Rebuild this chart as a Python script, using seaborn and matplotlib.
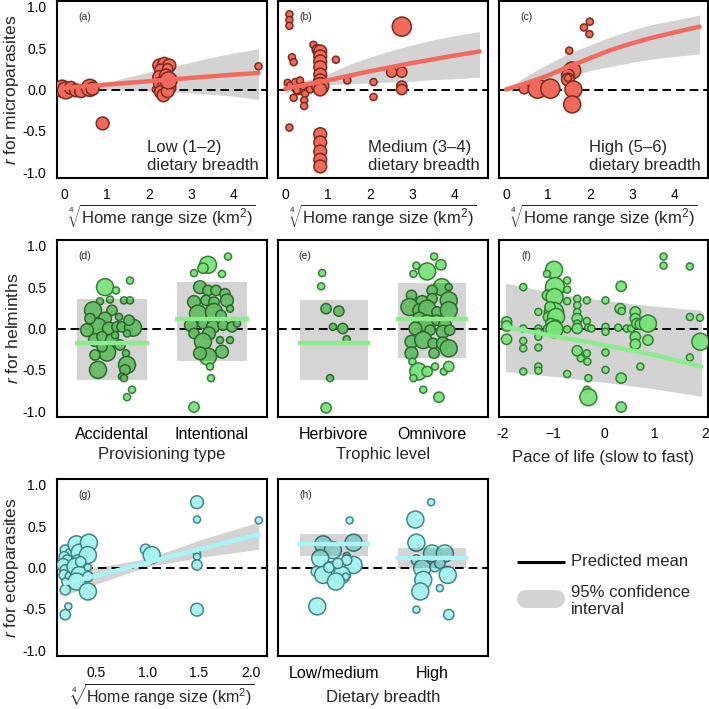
import matplotlib
matplotlib.use("Agg")
import matplotlib.pyplot as plt
import numpy as np
import pandas as pd
import seaborn as sns

# ------------------------------------------------------------------ data
y_ticks = [-1.0, -0.5, 0.0, 0.5, 1.0]
y_tick_labels = ["-1.0", "-0.5", "0.0", "0.5", "1.0"]
hr_ticks = [0, 1, 2, 3, 4]
g_ticks = [0.5, 1.0, 1.5, 2.0]
f_ticks = [-2, -1, 0, 1, 2]
f_tick_labels = ["-2", "\u22121", "0", "1", "2"]

# (a) low dietary breadth - microparasites
a_x = [-0.05, 0.04, 0.16, 0.28, 0.40, 0.61, 0.67, 0.91, 2.17, 2.25, 2.37, 2.49, 2.29,
       2.45, 2.25, 2.41, 2.49, 2.27, 2.37, 2.49, 2.29, 2.35, 2.45, 2.47, 4.60]
a_r = [0.01, -0.01, 0.02, -0.01, -0.02, 0.02, 0.01, -0.41, 0.00, 0.29, 0.31, 0.29, 0.23,
       0.25, 0.15, 0.17, 0.11, 0.07, 0.05, 0.02, -0.03, -0.07, -0.02, 0.11, 0.28]
a_w = [4, 4, 3, 3, 3, 4, 3, 3, 1, 3, 3, 3, 3, 2, 3, 3, 3, 3, 3, 3, 3, 3, 3, 4, 1]
a_fit_x = [0, 1, 2, 3, 4, 4.6]
a_fit = [0.02, 0.06, 0.10, 0.14, 0.18, 0.20]
a_ci_x = [0, 0.75, 1.5, 2, 2.5, 3, 3.5, 4, 4.6]
a_ci_lo = [0.00, 0.00, -0.01, -0.02, -0.03, -0.04, -0.06, -0.08, -0.12]
a_ci_hi = [0.04, 0.05, 0.15, 0.21, 0.27, 0.33, 0.39, 0.44, 0.49]

# (b) medium dietary breadth - microparasites
b_x = [0.10, 0.10, 0.10, 0.10, 0.16, 0.20, 0.06, 0.12, 0.24, 0.35, 0.20, 0.31, 0.42, 0.47,
       0.45, 0.45, 0.28, 0.59, 0.67, 0.76, 0.83, 0.83, 0.83, 0.83, 0.83, 0.83, 0.83, 0.83,
       0.83, 0.83, 0.83, 0.83, 0.83, 1.20, 1.47, 2.09, 2.09, 2.52, 2.76, 2.76, 2.76, 2.76]
b_r = [0.91, 0.84, 0.77, -0.46, 0.39, 0.33, 0.08, 0.05, 0.09, 0.11, -0.10, 0.00, 0.04, -0.05,
       -0.13, -0.20, -0.01, 0.00, 0.54, 0.48, 0.46, 0.40, 0.34, 0.27, 0.18, 0.11, 0.04, 0.00,
       -0.54, -0.64, -0.75, -0.85, -0.93, 0.36, 0.11, 0.09, -0.09, 0.21, 0.21, 0.04, 0.00, 0.76]
b_w = [1, 1, 1, 1, 1, 1, 1, 1, 1, 1, 1, 2, 1, 1,
       1, 1, 1, 1, 1, 2, 3, 3, 3, 3, 3, 3, 4, 3,
       3, 3, 3, 3, 3, 1, 1, 1, 1, 2, 2, 2, 2, 5]
b_fit_x = [0, 1, 2, 3, 4, 4.6]
b_fit = [0.01, 0.11, 0.22, 0.32, 0.41, 0.46]
b_ci_x = [0, 0.85, 1.5, 2, 2.5, 3, 3.5, 4, 4.6]
b_ci_lo = [-0.04, 0.05, 0.07, 0.08, 0.09, 0.10, 0.12, 0.13, 0.15]
b_ci_hi = [0.06, 0.15, 0.30, 0.39, 0.47, 0.54, 0.60, 0.65, 0.70]

# (c) high dietary breadth - microparasites
c_x = [0.43, 0.75, 1.05, 1.57, 1.47, 1.47, 1.47, 1.60, 1.57, 1.50, 1.85, 1.99, 1.98]
c_r = [0.01, 0.01, 0.01, 0.23, 0.17, 0.12, 0.14, 0.00, -0.18, 0.47, 0.75, 0.82, 0.67]
c_w = [2, 5, 5, 4, 3, 3, 1, 4, 4, 1, 1, 1, 1]
c_fit_x = [0, 0.5, 1, 1.5, 2, 2.5, 3, 3.5, 4, 4.6]
c_fit = [0.00, 0.08, 0.17, 0.28, 0.38, 0.48, 0.56, 0.63, 0.69, 0.76]
c_ci_lo = [0.00, 0.03, 0.07, 0.15, 0.23, 0.28, 0.33, 0.37, 0.40, 0.43]
c_ci_hi = [0.00, 0.17, 0.31, 0.44, 0.54, 0.64, 0.72, 0.79, 0.84, 0.90]

# (d) provisioning type - helminths
d_cats = ["Accidental", "Intentional"]
d_mean = [-0.18, 0.11]
d_lo = [-0.625, -0.39]
d_hi = [0.355, 0.565]
d_group = ([0] * 36) + ([1] * 34)
d_jit = [-0.07, 0.04, 0.18, -0.12, -0.19, 0.00, 0.12, 0.18, -0.07, -0.14, -0.03, 0.05,
         0.10, 0.21, 0.15, -0.17, -0.10, 0.00, -0.05, -0.17, 0.14, -0.14, 0.15, 0.13,
         0.10, 0.12, 0.20, 0.15, -0.25, -0.22, 0.07, 0.03, 0.08, -0.02, 0.17, -0.10,
         0.16, -0.04, -0.09, -0.18, 0.10, -0.12, -0.04, 0.04, 0.13, -0.18, -0.06, 0.02,
         0.15, 0.18, -0.14, 0.02, 0.09, -0.21, -0.09, 0.01, 0.11, 0.20, -0.18, -0.03,
         -0.09, 0.08, 0.18, 0.10, -0.04, -0.02, -0.01, -0.18, -0.12, 0.25]
d_r = [0.50, 0.46, 0.58, 0.33, 0.22, 0.22, 0.34, 0.34, 0.12, 0.02, 0.00, 0.02,
       0.02, 0.01, -0.06, -0.14, -0.10, -0.14, -0.29, -0.32, -0.30, -0.50, -0.44, -0.50,
       -0.58, -0.60, -0.74, -0.83, -0.02, 0.12, 0.14, -0.08, -0.20, 0.35, 0.10, -0.22,
       0.87, 0.77, 0.73, 0.67, 0.66, 0.50, 0.46, 0.46, 0.42, 0.32, 0.34, 0.32,
       0.34, 0.24, 0.18, 0.20, 0.16, 0.04, 0.06, 0.02, 0.04, 0.02, -0.06, -0.06,
       -0.16, -0.14, -0.14, -0.28, -0.34, -0.46, -0.60, -0.95, -0.30, 0.06]
d_w = [4, 1, 1, 1, 4, 2, 1, 1, 3, 4, 3, 2,
       2, 4, 1, 3, 2, 3, 4, 2, 1, 4, 4, 2,
       1, 1, 1, 1, 3, 2, 1, 1, 2, 1, 2, 2,
       1, 4, 2, 1, 1, 3, 2, 2, 2, 3, 2, 2,
       3, 1, 4, 4, 2, 3, 2, 3, 2, 2, 2, 3,
       4, 1, 1, 3, 4, 1, 1, 2, 3, 1]

# (e) trophic level - helminths
e_cats = ["Herbivore", "Omnivore"]
e_mean = [-0.18, 0.12]
e_lo = [-0.625, -0.36]
e_hi = [0.35, 0.55]
e_group = ([0] * 9) + ([1] * 42)
e_jit = [-0.12, -0.13, -0.08, 0.05, -0.01, 0.09, 0.13, -0.04, -0.08,
         0.02, -0.16, 0.09, -0.05, -0.19, 0.10, 0.00, 0.17, -0.21, -0.10, 0.00, 0.17,
         -0.23, -0.13, -0.05, 0.05, 0.17, -0.13, -0.05, 0.05, 0.13, -0.17, -0.02, 0.11,
         0.18, -0.21, -0.09, 0.01, 0.11, 0.17, -0.21, 0.02, -0.20, -0.17, -0.14, -0.05,
         0.03, 0.12, 0.17, -0.19, -0.09, 0.07]
e_r = [0.67, 0.51, 0.24, 0.21, 0.02, 0.00, -0.13, -0.60, -0.96,
       0.87, 0.76, 0.77, 0.69, 0.66, 0.50, 0.46, 0.50, 0.40, 0.32, 0.36, 0.34,
       0.26, 0.22, 0.24, 0.20, 0.22, 0.12, 0.06, 0.10, 0.04, 0.00, -0.02, -0.04,
       -0.02, -0.16, -0.14, -0.18, -0.18, -0.24, -0.30, -0.30, -0.40, -0.50, -0.52, -0.52,
       -0.46, -0.52, -0.46, -0.60, -0.74, -0.83]
e_w = [1, 1, 2, 2, 1, 2, 1, 1, 2,
       1, 1, 2, 4, 1, 4, 2, 1, 2, 3, 2, 4,
       4, 3, 4, 2, 4, 3, 4, 2, 3, 3, 2, 3,
       2, 3, 4, 2, 3, 4, 3, 2, 1, 1, 4, 2,
       1, 1, 2, 1, 1, 2]

# (f) pace of life - helminths
f_x = [-1.93, -1.93, -1.93, -1.60, -1.60, -1.60, -1.60, -1.60, -1.30, -1.30, -1.30, -1.30,
       -1.30, -1.30, -1.30, -0.99, -1.13, -0.97, -1.12, -0.98, -0.99, -1.07, -1.10, -0.95,
       -1.05, -0.95, -1.10, -0.98, -0.73, -0.73, -0.73, -0.73, -0.73, -0.53, -0.53, -0.53,
       -0.53, -0.53, -0.53, -0.53, -0.46, -0.34, -0.34, -0.31, -0.25, -0.34, -0.33, -0.31,
       -0.34, -0.31, 0.03, 0.03, 0.03, 0.03, 0.03, 0.28, 0.34, 0.32, 0.35, 0.34, 0.34,
       0.45, 0.54, 0.62, 0.62, 0.65, 0.62, 0.62, 0.72, 0.72, 0.87, 0.87, 1.18, 1.18, 1.70,
       1.70, 1.90, 1.70, 1.91]
f_r = [0.08, 0.03, -0.13, 0.50, 0.00, -0.15, -0.24, -0.52, 0.20, 0.00, -0.04, -0.10,
       -0.23, -0.46, -0.51, 0.71, 0.66, 0.50, 0.40, 0.38, 0.20, 0.26, 0.14, 0.14,
       0.06, 0.04, -0.01, -0.01, 0.58, 0.47, 0.33, -0.01, -0.55, 0.36, 0.28, 0.20,
       0.12, 0.06, 0.00, -0.27, -0.36, 0.34, 0.09, 0.01, 0.00, -0.30, -0.40, -0.60,
       -0.74, -0.83, 0.34, 0.02, -0.04, -0.29, -0.50, 0.01, 0.51, 0.24, 0.21, -0.60, -0.95,
       0.00, 0.00, 0.20, 0.12, 0.06, -0.10, -0.19, 0.05, -0.46, 0.06, -0.14, 0.87, 0.76, 0.75,
       0.14, 0.13, -0.35, -0.16]
f_w = [2, 2, 2, 1, 1, 1, 1, 1, 1, 1, 1, 1,
       1, 1, 1, 4, 1, 5, 2, 4, 5, 2, 2, 4,
       2, 2, 2, 4, 1, 1, 1, 1, 1, 1, 1, 1,
       2, 1, 2, 2, 1, 1, 1, 1, 1, 1, 1, 1,
       1, 4, 1, 1, 1, 1, 1, 1, 2, 2, 1, 2, 2,
       1, 1, 2, 2, 2, 2, 2, 2, 1, 4, 2, 1, 1, 1,
       1, 1, 1, 4]
f_fit_x = [-1.95, -1, 0, 1, 1.93]
f_fit = [0.02, -0.09, -0.20, -0.32, -0.46]
f_ci_lo = [-0.52, -0.58, -0.65, -0.73, -0.82]
f_ci_hi = [0.55, 0.43, 0.34, 0.27, 0.22]

# (g) home range - ectoparasites
g_x = [0.20, 0.25, 0.19, 0.22, 0.18, 0.20, 0.19, 0.25, 0.20, 0.20, 0.23, 0.20, 0.31,
       0.34, 0.32, 0.30, 0.37, 0.34, 0.31, 0.43, 0.42, 0.42, 0.42, 0.42, 0.35, 0.98,
       1.04, 1.48, 1.48, 1.48, 1.48, 1.48, 1.48, 2.08]
g_r = [0.21, 0.17, 0.13, 0.09, 0.03, -0.03, -0.09, -0.11, -0.17, -0.27, -0.47, -0.57, 0.28,
       0.18, 0.09, 0.01, -0.01, -0.09, -0.17, 0.30, 0.15, 0.00, -0.11, -0.29, 0.07, 0.22,
       0.15, 0.79, 0.58, 0.17, 0.13, 0.03, -0.51, 0.57]
g_w = [2, 2, 2, 2, 3, 2, 2, 2, 1, 2, 1, 2, 4,
       4, 2, 4, 2, 4, 4, 4, 4, 1, 2, 4, 2, 2,
       4, 3, 1, 1, 1, 2, 3, 1]
g_fit_x = [0.2, 0.5, 1.0, 1.5, 2.08]
g_fit = [-0.19, -0.10, 0.06, 0.22, 0.40]
g_ci_lo = [-0.33, -0.20, 0.01, 0.12, 0.22]
g_ci_hi = [-0.05, 0.00, 0.11, 0.33, 0.55]

# (h) dietary breadth - ectoparasites
h_cats = ["Low/medium", "High"]
h_mean = [0.28, 0.12]
h_lo = [0.14, 0.00]
h_hi = [0.41, 0.23]
h_group = ([0] * 17) + ([1] * 15)
h_jit = [0.16, -0.11, 0.20, -0.01, -0.14, 0.13, 0.20, -0.03, -0.18, -0.11, 0.08, 0.12,
         0.02, -0.17, 0.13, -0.05, 0.04,
         -0.01, -0.17, -0.16, 0.00, 0.13, -0.16, -0.10, 0.03, 0.16, -0.09, 0.08, -0.12,
         -0.16, 0.17, 0.08]
h_r = [0.57, 0.28, 0.30, 0.21, 0.11, 0.14, 0.03, -0.03, -0.05, -0.09, -0.09, -0.11,
       -0.17, -0.47, 0.09, 0.00, 0.05,
       0.79, 0.58, 0.30, 0.17, 0.17, 0.09, -0.01, 0.01, -0.09, -0.15, -0.25, -0.29,
       -0.51, -0.57, 0.05]
h_w = [1, 4, 4, 4, 4, 1, 4, 4, 2, 4, 4, 1,
       4, 4, 2, 2, 2,
       1, 4, 4, 4, 4, 2, 4, 2, 4, 4, 1, 4,
       1, 2, 2]

# ------------------------------------------------------------------ style
sns.set_style("white")
plt.rcParams["font.family"] = ["Liberation Sans", "DejaVu Sans"]
plt.rcParams["mathtext.fontset"] = "custom"
plt.rcParams["mathtext.rm"] = "Liberation Sans"
plt.rcParams["mathtext.it"] = "Liberation Sans:italic"
plt.rcParams["mathtext.bf"] = "Liberation Sans:bold"
plt.rcParams["axes.unicode_minus"] = False

RED_FILL, RED_EDGE, RED_LINE = "#EE6A5B", "#7E2A1E", "#F2695E"
GRN_FILL, GRN_EDGE, GRN_LINE = "#7AE27A", "#2F7A2F", "#8CEB8C"
CYN_FILL, CYN_EDGE, CYN_LINE = "#A4F3F0", "#3E7F7C", "#A9F5F3"
GRAY = "#D3D3D3"
SIZES = {1: 26, 2: 55, 3: 85, 4: 150, 5: 190}

W, H = 709, 709
fig = plt.figure(figsize=(W / 100, H / 100), dpi=100)


def rect(l, t, r, b):
    return [l / W, 1 - b / H, (r - l) / W, (b - t) / H]


cols = [(57, 267), (278, 488), (499, 708)]
rows = [(1, 178), (240, 417), (479, 656)]

HR_LABEL = r"$\sqrt[4]{\mathrm{Home\ range\ size\ (km^{2})}}$"


def make_ax(ci, ri, left):
    ax = fig.add_axes(rect(cols[ci][0], rows[ri][0], cols[ci][1], rows[ri][1]))
    ax.set_ylim(-1.07, 1.07)
    for s in ax.spines.values():
        s.set_visible(True)
        s.set_linewidth(1.5)
        s.set_color("black")
    if left:
        ax.set_yticks(y_ticks)
        ax.set_yticklabels(y_tick_labels)
    else:
        ax.set_yticks([])
    ax.tick_params(axis="both", direction="out", length=4.5, width=0.9,
                   labelsize=10, pad=3, colors="black")
    ax.axhline(0, color="black", lw=1.4, ls=(0, (4.5, 2.5)), zorder=2)
    return ax


def points(ax, x, r, w, fill, edge, alpha=1.0):
    df = pd.DataFrame({"x": x, "r": r, "w": w})
    sns.scatterplot(data=df, x="x", y="r", size="w", sizes=SIZES, color=fill,
                    edgecolor=edge, linewidth=1.1, alpha=alpha, legend=False,
                    ax=ax, zorder=3)


def fit(ax, fx, fy, color, lo_x=None, lo=None, hi=None):
    if lo is not None:
        ax.fill_between(lo_x, lo, hi, color=GRAY, lw=0, zorder=1)
    sns.lineplot(x=fx, y=fy, ax=ax, color=color, linewidth=3.2, zorder=5)


def cat_panel(ax, cats, mean, lo, hi, group, jit, r, w, fill, edge, line):
    x = np.array(group) + np.array(jit)
    points(ax, x, r, w, fill, edge, alpha=0.95)
    pos = np.arange(len(cats))
    ax.bar(pos, np.array(hi) - np.array(lo), bottom=lo, width=0.7, color="black",
           alpha=0.17, lw=0, zorder=4)
    ax.hlines(mean, pos - 0.37, pos + 0.37, color=line, lw=3.2, zorder=5)
    ax.set_xticks(pos)
    ax.set_xticklabels(cats, fontsize=11.5)
    ax.set_xlim(-0.57, 1.57)


def panel_tag(ax, s):
    ax.text(0.13, 0.91, s, transform=ax.transAxes, fontsize=7.5, ha="center", va="center")


# ---- row 1: microparasites
row1 = [
    ("(a)", "Low (1\u20132)\ndietary breadth", a_x, a_r, a_w, a_fit_x, a_fit, a_ci_x, a_ci_lo, a_ci_hi),
    ("(b)", "Medium (3\u20134)\ndietary breadth", b_x, b_r, b_w, b_fit_x, b_fit, b_ci_x, b_ci_lo, b_ci_hi),
    ("(c)", "High (5\u20136)\ndietary breadth", c_x, c_r, c_w, c_fit_x, c_fit, c_fit_x, c_ci_lo, c_ci_hi),
]
for i, (tag, txt, px, pr, pw, fx, fy, cx, clo, chi) in enumerate(row1):
    ax = make_ax(i, 0, i == 0)
    fit(ax, fx, fy, RED_LINE, cx, clo, chi)
    points(ax, px, pr, pw, RED_FILL, RED_EDGE)
    ax.set_xlim(-0.17, 4.8)
    ax.set_xticks(hr_ticks)
    ax.set_xticklabels([str(t) for t in hr_ticks])
    ax.set_xlabel(HR_LABEL, fontsize=12, labelpad=0)
    ax.set_ylabel(r"$\it{r}$ for microparasites" if i == 0 else "", fontsize=12.5, labelpad=1)
    ax.text(1.97, -0.81, txt, fontsize=12, ha="left", va="center", linespacing=1.2)
    panel_tag(ax, tag)

# ---- row 2: helminths
ax = make_ax(0, 1, True)
cat_panel(ax, d_cats, d_mean, d_lo, d_hi, d_group, d_jit, d_r, d_w, GRN_FILL, GRN_EDGE, GRN_LINE)
ax.set_xlim(-0.55, 1.55)
ax.set_xlabel("Provisioning type", fontsize=12, labelpad=3)
ax.set_ylabel(r"$\it{r}$ for helminths", fontsize=12.5, labelpad=1)
panel_tag(ax, "(d)")

ax = make_ax(1, 1, False)
cat_panel(ax, e_cats, e_mean, e_lo, e_hi, e_group, e_jit, e_r, e_w, GRN_FILL, GRN_EDGE, GRN_LINE)
ax.set_xlabel("Trophic level", fontsize=12, labelpad=3)
ax.set_ylabel("")
panel_tag(ax, "(e)")

ax = make_ax(2, 1, False)
fit(ax, f_fit_x, f_fit, GRN_LINE, f_fit_x, f_ci_lo, f_ci_hi)
points(ax, f_x, f_r, f_w, GRN_FILL, GRN_EDGE, alpha=0.95)
ax.set_xlim(-2.08, 2.06)
ax.set_xticks(f_ticks)
ax.set_xticklabels(f_tick_labels)
ax.set_xlabel("Pace of life (slow to fast)", fontsize=12, labelpad=6)
ax.set_ylabel("")
panel_tag(ax, "(f)")

# ---- row 3: ectoparasites
ax = make_ax(0, 2, True)
fit(ax, g_fit_x, g_fit, CYN_LINE, g_fit_x, g_ci_lo, g_ci_hi)
points(ax, g_x, g_r, g_w, CYN_FILL, CYN_EDGE, alpha=0.95)
ax.set_xlim(0.12, 2.16)
ax.set_xticks(g_ticks)
ax.set_xticklabels([f"{t:.1f}" for t in g_ticks])
ax.set_xlabel(HR_LABEL, fontsize=11.5, labelpad=1)
ax.set_ylabel(r"$\it{r}$ for ectoparasites", fontsize=12.5, labelpad=1)
panel_tag(ax, "(g)")

ax = make_ax(1, 2, False)
cat_panel(ax, h_cats, h_mean, h_lo, h_hi, h_group, h_jit, h_r, h_w, CYN_FILL, CYN_EDGE, CYN_LINE)
ax.set_xlabel("Dietary breadth", fontsize=12, labelpad=6)
ax.set_ylabel("")
panel_tag(ax, "(h)")

# ---- legend
lax = fig.add_axes([0, 0, 1, 1])
lax.set_xlim(0, W)
lax.set_ylim(H, 0)
lax.axis("off")
lax.plot([517, 565], [562, 562], color="black", lw=2.2, solid_capstyle="butt")
lax.text(571, 562, "Predicted mean", fontsize=12, va="center", ha="left")
lax.plot([526, 556], [599, 599], color=GRAY, lw=13, solid_capstyle="round")
lax.text(571, 601, "95% confidence\ninterval", fontsize=12, va="center", ha="left",
         linespacing=1.1)

fig.savefig("out.png", dpi=100)
